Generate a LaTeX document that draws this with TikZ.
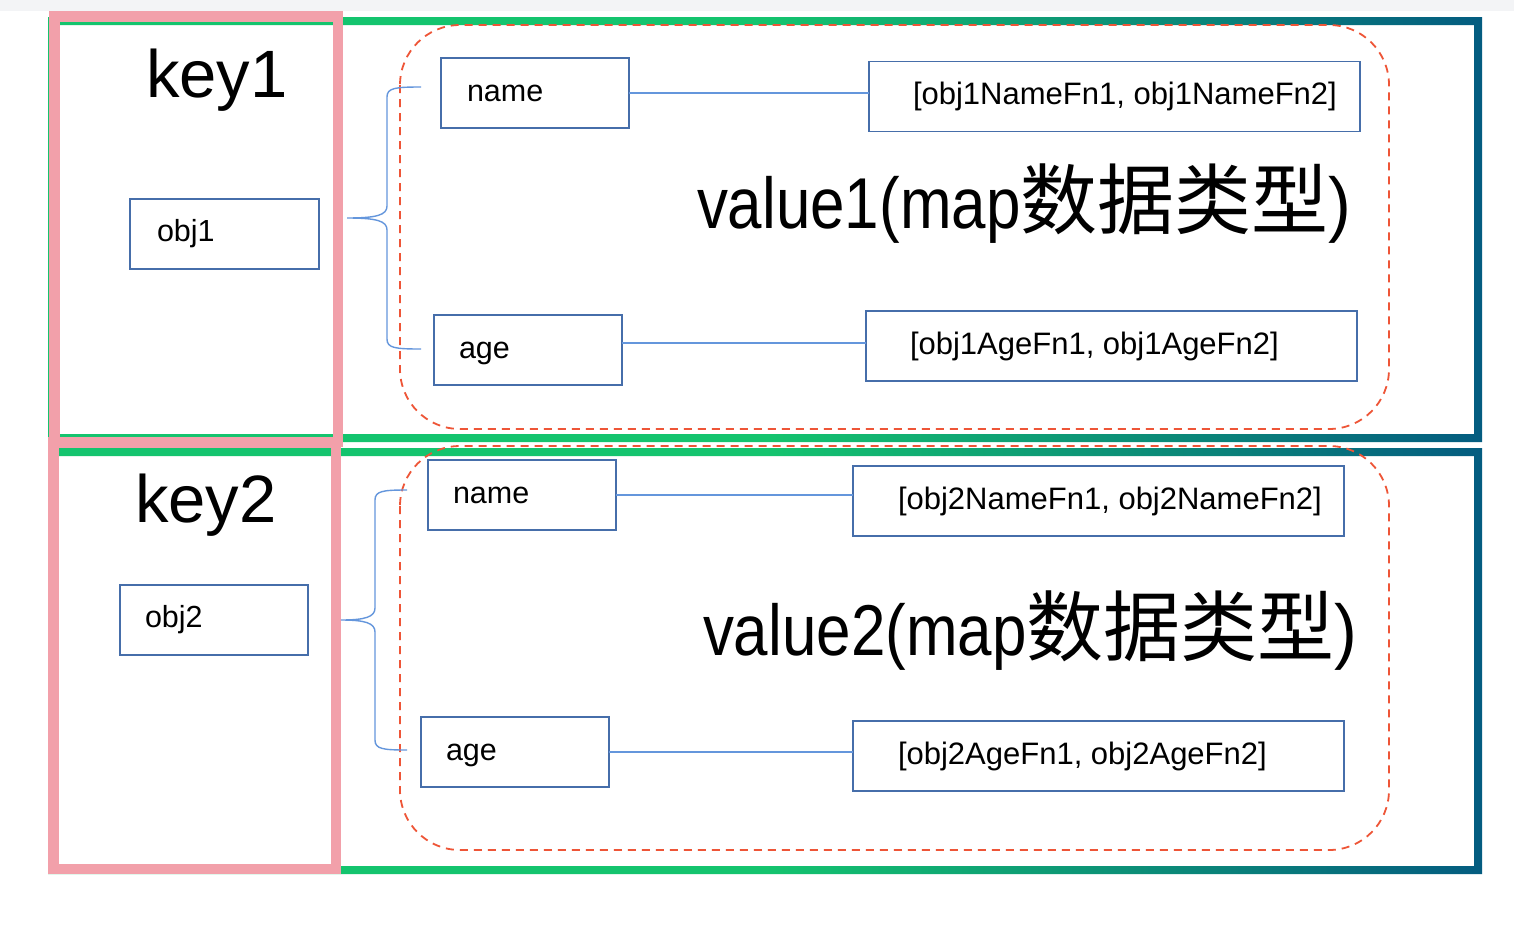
\documentclass[tikz,border=0pt]{standalone}
\usepackage{fontspec}
\setmainfont{Liberation Sans}
\newfontfamily\cjk{Noto Sans CJK SC}
\usepackage{graphicx}
\definecolor{fgreen}{RGB}{20,196,110}
\definecolor{fblue}{RGB}{4,92,128}
\definecolor{keypink}{RGB}{242,160,170}
\definecolor{boxblue}{RGB}{70,110,170}
\definecolor{linkblue}{RGB}{100,150,220}
\definecolor{dashred}{RGB}{238,85,55}
\definecolor{topgrey}{RGB}{243,244,246}
\pgfdeclarehorizontalshading{frameshade}{100bp}{color(0bp)=(fgreen); color(50bp)=(fgreen); color(75bp)=(fblue); color(100bp)=(fblue)}
\tikzstyle{base}=[x=1pt, y=-1pt, inner sep=0pt, outer sep=0pt]
\tikzstyle{keybox}=[draw=keypink, line width=10.5pt]
\tikzstyle{mapbox}=[draw=dashred, line width=1.8pt, dash pattern=on 8pt off 6pt, rounded corners=60pt]
\tikzstyle{itembox}=[draw=boxblue, line width=1.8pt, minimum height=70pt]
\tikzstyle{itemtext}=[anchor=base west, font=\fontsize{30.5}{34}\selectfont]
\tikzstyle{fntext}=[anchor=base west, font=\fontsize{31}{34}\selectfont]
\tikzstyle{link}=[draw=linkblue, line width=1.4pt]
% brace: tip x, tip y, spine x, top y, bottom y, end x
\newcommand{\mapbrace}[6]{%
  \draw[link] (#6,#4) .. controls (#3+8,#4) and (#3,#4+1) .. (#3,#4+10) -- (#3,#2-12)
    .. controls (#3,#2-3) and (#3-10,#2) .. (#1,#2)
    .. controls (#3-10,#2) and (#3,#2+3) .. (#3,#2+12) -- (#3,#5-10)
    .. controls (#3,#5-1) and (#3+8,#5) .. (#6,#5);}
\newcommand{\maptext}[1]{\fontsize{72}{80}\selectfont\scalebox{0.86}[1]{#1(map}{\cjk\fontsize{77}{80}\selectfont 数据类型}\scalebox{0.95}[1]{)}}

\begin{document}
\begin{tikzpicture}[base]
    \useasboundingbox (0,0) rectangle (1514,929);
    \fill[white] (0,0) rectangle (1514,929);
    \fill[topgrey] (0,0) rectangle (1514,11);

    % outer frames
    \shade[shading=frameshade, even odd rule] (48,17) rectangle (1482,442) (56,25) rectangle (1474,434);
    \shade[shading=frameshade, even odd rule] (48,448) rectangle (1482,874) (56,456) rectangle (1474,866);

    % key columns
    \draw[keybox] (54.25,16.25) rectangle (337.75,441.75);
    \draw[keybox] (53.25,442.25) rectangle (335.75,868.75);

    % map values
    \draw[mapbox] (400,25) rectangle (1389,429);
    \draw[mapbox] (400,446) rectangle (1389,850);

    % first entry
    \node[anchor=base west] (key1) at (146,97) {\fontsize{67}{72}\selectfont key1};
    \node[itembox, minimum width=189pt] (obj1) at (224.5,234) {};
    \node[itemtext] at ([xshift=27pt, yshift=-7pt]obj1.west) {obj1};
    \node[itembox, minimum width=188pt] (name1) at (535,93) {};
    \node[itemtext] at ([xshift=26pt, yshift=-8pt]name1.west) {name};
    \node[itembox, minimum width=491pt] (nf1) at (1114.5,96.5) {};
    \node[fntext] at ([xshift=44pt, yshift=-8pt]nf1.west) {[obj1NameFn1, obj1NameFn2]};
    \node[itembox, minimum width=188pt] (age1) at (528,350) {};
    \node[itemtext] at ([xshift=25pt, yshift=-8pt]age1.west) {age};
    \node[itembox, minimum width=491pt] (af1) at (1111.5,346) {};
    \node[fntext] at ([xshift=44pt, yshift=-8pt]af1.west) {[obj1AgeFn1, obj1AgeFn2]};
    \draw[link] (name1.east) -- (name1.east -| nf1.west);
    \draw[link] ([yshift=3pt]af1.west -| age1.east) -- ([yshift=3pt]af1.west);
    \mapbrace{347}{218}{387}{87}{349}{421}
    \node[anchor=base west] (value1) at (697,228) {\maptext{value1}};

    % second entry
    \node[anchor=base west] (key2) at (135,522) {\fontsize{67}{72}\selectfont key2};
    \node[itembox, minimum width=188pt] (obj2) at (214,620) {};
    \node[itemtext] at ([xshift=25pt, yshift=-7pt]obj2.west) {obj2};
    \node[itembox, minimum width=188pt] (name2) at (522,495) {};
    \node[itemtext] at ([xshift=25pt, yshift=-8pt]name2.west) {name};
    \node[itembox, minimum width=491pt] (nf2) at (1098.5,501) {};
    \node[fntext] at ([xshift=45pt, yshift=-8pt]nf2.west) {[obj2NameFn1, obj2NameFn2]};
    \node[itembox, minimum width=188pt] (age2) at (515,752) {};
    \node[itemtext] at ([xshift=25pt, yshift=-8pt]age2.west) {age};
    \node[itembox, minimum width=491pt] (af2) at (1098.5,756) {};
    \node[fntext] at ([xshift=45pt, yshift=-8pt]af2.west) {[obj2AgeFn1, obj2AgeFn2]};
    \draw[link] (name2.east) -- (name2.east -| nf2.west);
    \draw[link] (age2.east) -- (age2.east -| af2.west);
    \mapbrace{341}{620}{375}{490}{750}{407}
    \node[anchor=base west] (value2) at (703,655) {\maptext{value2}};
\end{tikzpicture}
\end{document}
